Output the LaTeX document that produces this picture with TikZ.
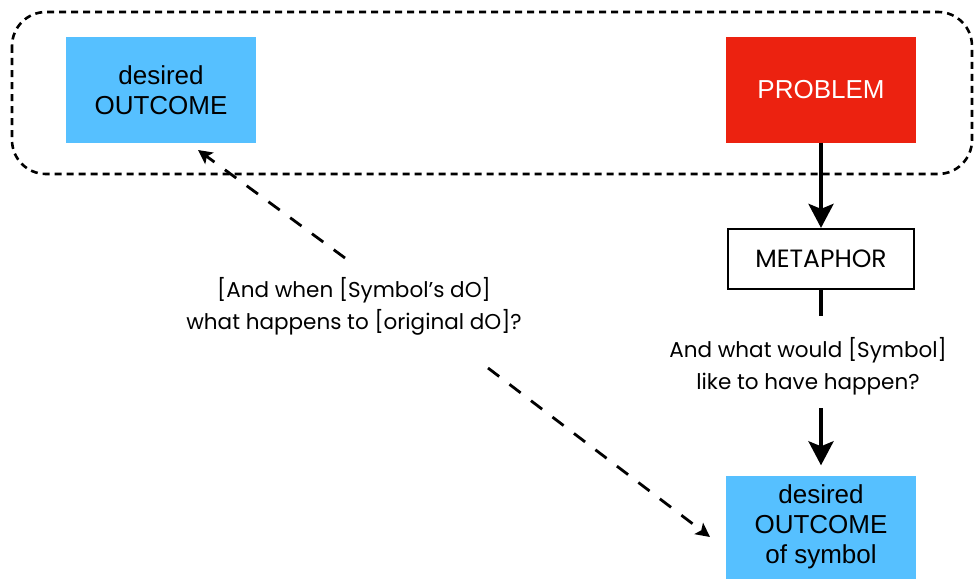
\documentclass[tikz,border=0pt]{standalone}
\usepackage{fontspec}
\setmainfont{Liberation Sans}
\newfontfamily\hand{Poppins}
\usetikzlibrary{arrows.meta}
\definecolor{boxblue}{RGB}{86,192,255}
\definecolor{boxred}{RGB}{236,34,16}
\begin{document}
\begin{tikzpicture}[x=1pt,y=-1pt,
  fbox/.style={minimum width=190pt,minimum height=105pt,inner sep=0pt,align=center,
    font=\fontsize{26}{30}\selectfont},
  handtext/.style={align=center,font=\hand\fontsize{21.5}{32}\selectfont},
  thickarrow/.style={line width=4pt,-{Stealth[length=24pt,width=25pt,inset=5pt]}},
  dasharrow/.style={line width=2.8pt,dash pattern=on 14pt off 13pt,
    -{Stealth[length=14pt,width=14pt,inset=3pt]}}]
\useasboundingbox (0,0) rectangle (976,578);
\draw[dash pattern=on 7pt off 5pt,line width=2.6pt,rounded corners=34pt] (12,12) rectangle (972,174);
\node[fbox,fill=boxblue] (do) at (161,90) {desired\\OUTCOME};
\node[fbox,fill=boxred,text=white] (prob) at (821,90) {PROBLEM};
\node[draw,line width=2.2pt,minimum width=186pt,minimum height=60pt,inner sep=0pt,
  font=\hand\fontsize{25}{28}\selectfont] (met) at (821,259) {METAPHOR};
\node[handtext] (q1) at (808,366) {And what would [Symbol]\\like to have happen?};
\node[fbox,fill=boxblue,minimum height=103pt] (dos) at (821,527) {desired\\OUTCOME\\of symbol};
\node[handtext] (q2) at (354,306) {[And when [Symbol’s dO]\\what happens to [original dO]?};
\draw[thickarrow] (prob) -- (met);
\draw[line width=4pt,shorten >=18pt] (met.south) -- (met.south |- q1.north);
\draw[thickarrow,shorten <=10pt,shorten >=10pt] (met.south |- q1.south) -- (dos.north);
\coordinate (tA) at (198,150);
\coordinate (tB) at (345,258);
\coordinate (tC) at (488,368);
\coordinate (tD) at (710,537);
\draw[dasharrow] (tB) -- (tA);
\draw[dasharrow] (tC) -- (tD);
\end{tikzpicture}
\end{document}
